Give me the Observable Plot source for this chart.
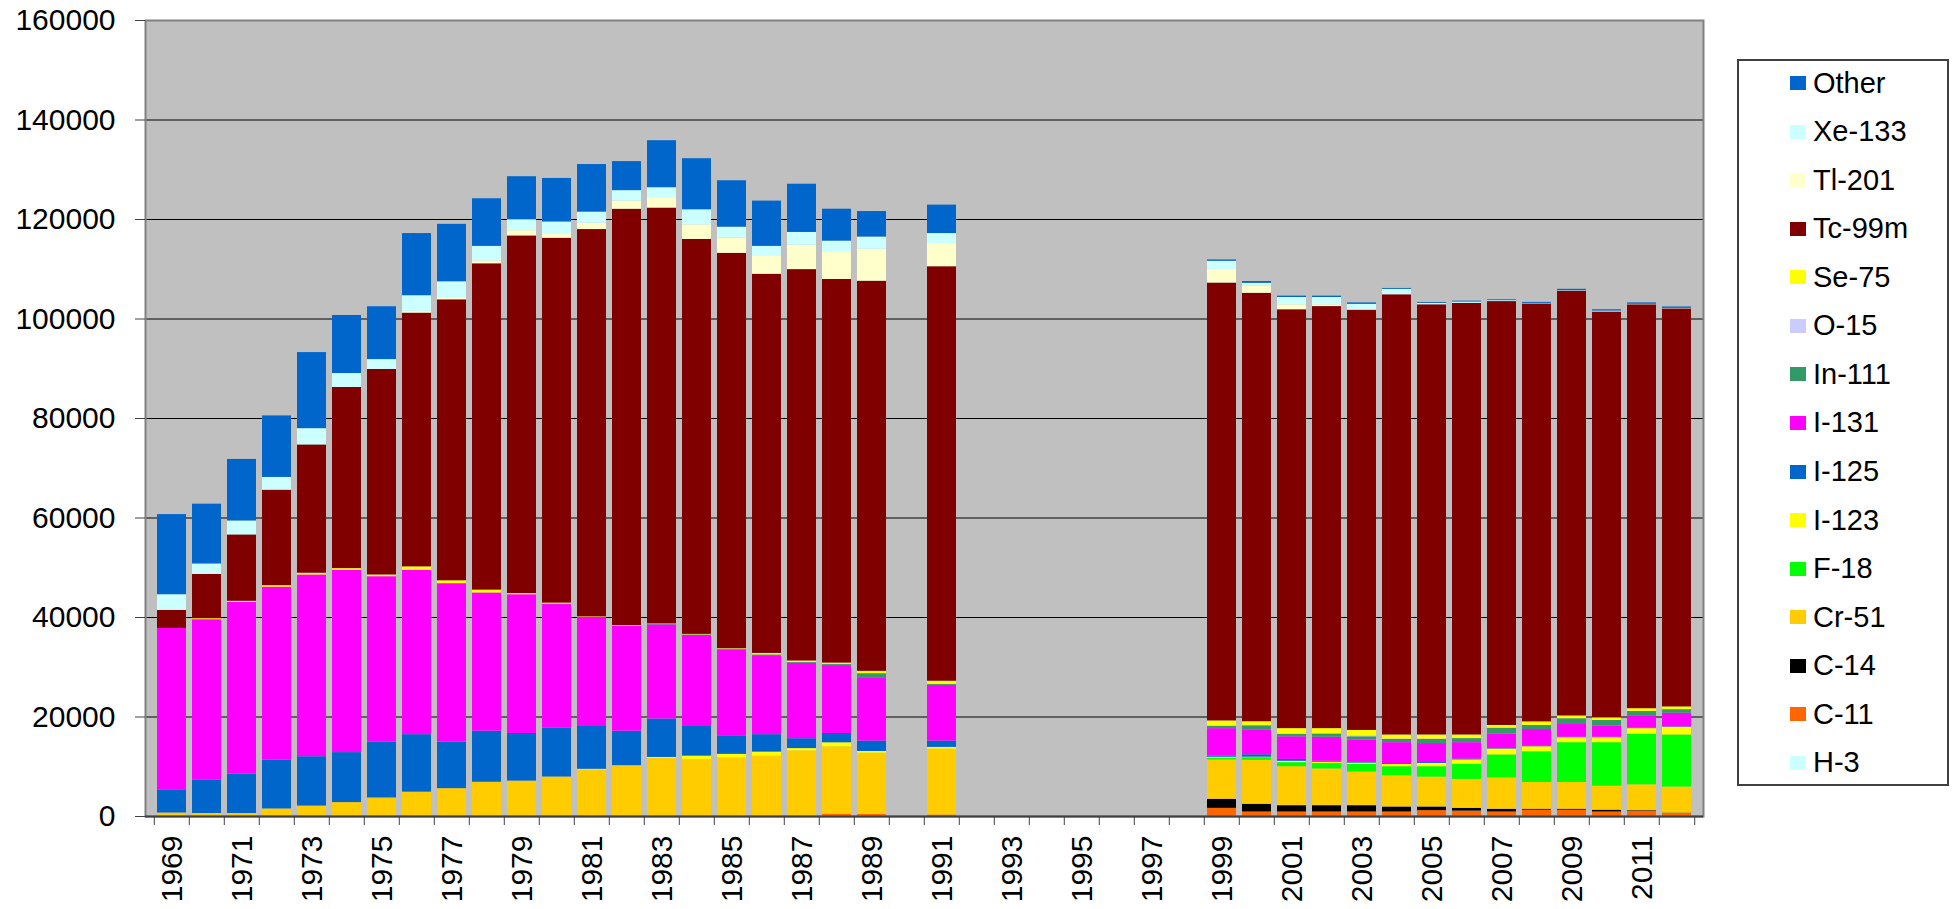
<!DOCTYPE html>
<html>
<head>
<meta charset="utf-8">
<script src="https://cdn.jsdelivr.net/npm/d3@7"></script>
<script src="https://cdn.jsdelivr.net/npm/@observablehq/plot@0.6"></script>
<style>
  html, body { margin: 0; padding: 0; background: #ffffff; }
  #wrap { position: relative; width: 1956px; height: 909px; font-family: "Liberation Sans", Arial, sans-serif; }
  #chart { position: absolute; left: 0; top: 0; }
  #legend { position: absolute; left: 1737px; top: 59px; width: 212px; height: 727px; border: 2px solid #404040; box-sizing: border-box; background: #fff; }
  .item { position: absolute; left: 51px; height: 30px; display: flex; align-items: center; font-size: 29px; color: #000; white-space: nowrap; }
  .sw { width: 16px; height: 14px; margin-right: 7px; }
</style>
</head>
<body>
<div id="wrap"><div id="chart"></div><div id="legend"></div></div>
<script>
const N = null;
const years = ["1969","1970","1971","1972","1973","1974","1975","1976","1977","1978","1979","1980","1981","1982","1983","1984","1985","1986","1987","1988","1989","1990","1991","1992","1993","1994","1995","1996","1997","1998","1999","2000","2001","2002","2003","2004","2005","2006","2007","2008","2009","2010","2011","2012"];
const yearLabels = ["1969","1971","1973","1975","1977","1979","1981","1983","1985","1987","1989","1991","1993","1995","1997","1999","2001","2003","2005","2007","2009","2011"];
const yTicks = [0, 20000, 40000, 60000, 80000, 100000, 120000, 140000, 160000];

// stacking order: bottom to top
const seriesNames = ["H-3","C-11","C-14","Cr-51","F-18","I-123","I-125","I-131","In-111","O-15","Se-75","Tc-99m","Tl-201","Xe-133","Other"];
const seriesColors = ["#CCFFFF","#FF6600","#000000","#FFCC00","#00FF00","#FFFF00","#0066CC","#FF00FF","#339966","#CCCCFF","#FFFF00","#800000","#FFFFCC","#CCFFFF","#0066CC"];

//            1969 ... 1989 (21 values), 1990, 1991, 1992-1998, 1999 ... 2012
const h3    = [0,0,0,0,0,0,0,0,0,0,0,0,0,0,0,0,0,0,0,0,0, N, 0, N,N,N,N,N,N,N, 0,0,0,0,0,0,0,0,0,0,0,0,0,0];
const c11   = [0,0,0,0,0,0,0,0,0,0,0,0,0,0,0,0,0,0,0,470,400, N, 300, N,N,N,N,N,N,N, 1640,910,910,910,910,910,1180,1090,910,1270,1270,910,1090,640];
const c14   = [0,0,0,0,0,0,0,0,0,0,0,0,0,0,0,0,0,0,0,0,0, N, 0, N,N,N,N,N,N,N, 1820,1550,1270,1270,1270,1000,730,550,550,190,190,360,100,50];
const cr51  = [700,600,600,1520,2100,2800,3730,4900,5600,6890,7120,7940,9340,10040,11670,11440,11790,12140,13190,13530,12320, N, 13240, N,N,N,N,N,N,N, 7920,8830,7830,7380,6740,6280,6010,5820,6280,5370,5370,4830,5180,5230];
const f18   = [0,0,0,0,0,0,0,0,0,0,0,0,0,0,0,0,0,0,0,0,0, N, 0, N,N,N,N,N,N,N, 360,540,820,1090,1550,1820,2090,3010,4640,6190,8010,8740,10200,10470];
const i123  = [0,0,0,0,0,0,0,0,0,0,0,0,150,150,200,700,700,810,460,820,350, N, 350, N,N,N,N,N,N,N, 180,100,270,270,270,460,640,910,1180,1000,1000,1000,1090,1540];
const i125  = [4550,6750,7920,9800,9920,10040,11210,11550,9340,10260,9570,9800,8600,6960,7730,5950,3610,3500,1990,1870,2100, N, 1280, N,N,N,N,N,N,N, 190,480,370,180,270,180,180,180,90,90,90,90,90,90];
const i131  = [32550,32210,34540,34780,36530,36640,33260,33030,31860,27780,27890,24860,21940,21130,18910,18320,17390,15880,15170,13650,12720, N, 11200, N,N,N,N,N,N,N, 5550,4920,4550,4830,4370,4190,3830,3280,2920,3370,2730,2280,2370,2730];
const in111 = [0,0,0,0,0,0,0,0,0,0,0,100,0,0,100,100,150,150,150,200,820, N, 200, N,N,N,N,N,N,N, 450,900,460,640,640,640,820,820,1180,820,1000,1090,1000,730];
const o15   = [0,0,0,0,0,0,0,0,0,0,0,0,0,0,0,0,0,0,0,0,0, N, 0, N,N,N,N,N,N,N, 100,100,100,100,200,100,100,0,0,0,0,0,0,0];
const se75  = [0,200,200,300,350,350,350,700,580,580,230,200,100,100,100,100,100,300,300,300,470, N, 620, N,N,N,N,N,N,N, 1000,720,1080,990,1080,810,810,730,550,720,550,540,550,550];
const tc99m = [3630,8900,13340,19190,25790,36410,41310,51000,56480,65590,71890,73330,77850,83690,83590,79390,79460,76220,78670,77110,78420, N, 83320, N,N,N,N,N,N,N, 88020,86120,84200,84840,84470,88480,86470,86750,85200,84020,85380,81570,81190,80010];
const tl201 = [0,0,0,0,0,0,0,350,470,580,1050,940,1290,1630,2100,2920,3030,3730,4900,5600,6420, N, 4670, N,N,N,N,N,N,N, 2730,1460,1000,360,0,0,0,0,0,0,0,0,0,0];
const xe133 = [3150,2100,2800,2560,3270,2800,1980,3150,3150,2920,2220,2330,2210,2100,1990,3030,2220,1870,2570,2100,2450, N, 1990, N,N,N,N,N,N,N, 1640,540,1460,1460,1180,1090,280,270,180,100,100,180,100,100];
const other = [16100,12020,12370,12370,15290,11670,10620,12490,11550,9570,8630,8750,9570,5840,9450,10270,9340,9100,9690,6420,5130, N, 5720, N,N,N,N,N,N,N, 270,360,270,270,280,180,180,180,180,200,280,270,280,280];

const seriesValues = [h3, c11, c14, cr51, f18, i123, i125, i131, in111, o15, se75, tc99m, tl201, xe133, other];

// long-format table built from the arrays (bottom-to-top order)
const table = [];
seriesNames.forEach((name, s) => {
  seriesValues[s].forEach((v, i) => {
    if (v != null && v > 0) table.push({year: years[i], series: name, value: v});
  });
});

const W = 1720, H = 909;
const mL = 145, mR = 17, mT = 20, mB = 93;
const halfStep = (W - mL - mR) / years.length / 2;

const chart = Plot.plot({
  width: W, height: H,
  marginLeft: mL, marginRight: mR, marginTop: mT, marginBottom: mB,
  style: {fontFamily: "'Liberation Sans', Arial, sans-serif", fontSize: "30px", color: "#000", background: "transparent", overflow: "visible"},
  x: {type: "band", domain: years, paddingInner: 0.17, paddingOuter: 0.085, axis: null},
  y: {domain: [0, 160000], axis: null},
  color: {domain: seriesNames, range: seriesColors},
  marks: [
    Plot.frame({fill: "#C0C0C0"}),
    Plot.ruleY(yTicks.filter(d => d > 0 && d < 160000), {stroke: "#000", strokeWidth: 1.2}),
    Plot.barY(table, {x: "year", y: "value", fill: "series"}),
    Plot.frame({stroke: "#808080", strokeWidth: 2}),
    Plot.ruleY([0], {stroke: "#404040", strokeWidth: 2}),
    Plot.axisY({ticks: yTicks, tickSize: 10, tickPadding: 20, tickFormat: d => String(d), fontSize: 30, label: null, stroke: "#404040"}),
    Plot.axisX({ticks: years, tickSize: 9, tickFormat: () => "", dx: -halfStep, label: null, stroke: "#404040"}),
    Plot.axisX({ticks: [years[years.length - 1]], tickSize: 9, tickFormat: () => "", dx: halfStep, label: null, stroke: "#404040"}),
    Plot.axisX({ticks: yearLabels, tickSize: 0, tickPadding: 19, tickRotate: -90, fontSize: 30, label: null})
  ]
});
document.getElementById("chart").appendChild(chart);

// legend (top entry = top of stack)
const legend = document.getElementById("legend");
const legendNames = seriesNames.slice().reverse();
const legendColors = seriesColors.slice().reverse();
legendNames.forEach((name, i) => {
  const it = document.createElement("div");
  it.className = "item";
  it.style.top = (24 - 2 - 15 + i * 48.57) + "px";
  const sw = document.createElement("span");
  sw.className = "sw";
  sw.style.background = legendColors[i];
  const tx = document.createElement("span");
  tx.textContent = name;
  it.appendChild(sw); it.appendChild(tx);
  legend.appendChild(it);
});
</script>
</body>
</html>
